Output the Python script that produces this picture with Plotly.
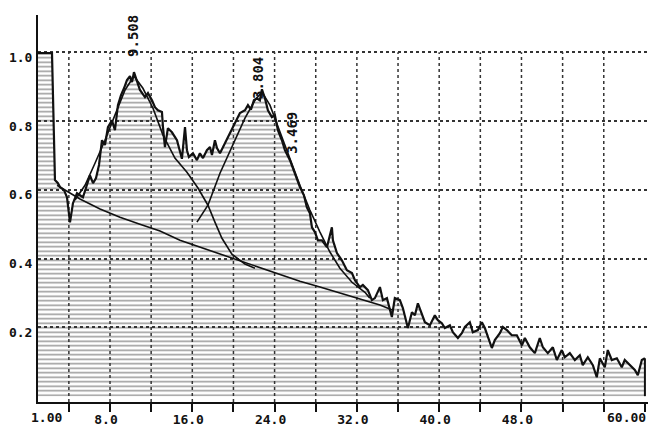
import plotly.graph_objects as go

# ---- data ----
x_main = [1.00, 2.36, 2.65, 2.94, 3.14, 3.53, 3.82, 4.11, 4.40, 4.79, 5.08, 5.37, 5.66,
          6.05, 6.35, 6.64, 6.93, 7.22, 7.51, 7.80, 8.19, 8.48, 8.77, 9.07, 9.36, 9.65,
          9.94, 10.14, 10.33, 10.62, 10.91, 11.40, 11.69, 12.08, 12.37, 12.66, 13.05,
          13.15, 13.34, 13.63, 14.02, 14.51, 14.99, 15.29, 15.48, 15.67, 16.06, 16.45,
          16.74, 17.04, 17.42, 17.72, 17.91, 18.20, 18.40, 18.69, 19.17, 19.66, 19.95,
          20.34, 20.63, 21.12, 21.41, 21.70, 21.99, 22.28, 22.57, 22.77, 23.06, 23.35,
          23.74, 24.03, 24.32, 24.71, 25.00, 25.49, 25.97, 26.46, 26.85, 27.14, 27.43,
          27.63, 27.92, 28.21, 28.60, 29.09, 29.57, 29.67, 30.06, 30.54, 31.03, 31.52,
          31.81, 32.29, 32.58, 33.07, 33.46, 33.75, 34.24, 34.53, 34.92, 35.40, 35.69,
          36.18, 36.47, 36.96, 37.35, 37.64, 37.93, 38.32, 38.61, 39.10, 39.58, 39.87,
          40.26, 40.55, 41.04, 41.33, 41.82, 42.20, 42.50, 42.98, 43.27, 43.76, 44.15,
          44.44, 44.73, 45.12, 45.41, 45.90, 46.19, 46.58, 47.06, 47.55, 48.04, 48.33,
          48.81, 49.30, 49.78, 50.08, 50.56, 51.05, 51.44, 51.92, 52.21, 52.70, 53.19,
          53.67, 53.96, 54.45, 54.94, 55.32, 55.62, 56.10, 56.39, 56.78, 57.27, 57.75,
          58.04, 58.53, 59.02, 59.31, 59.70, 60.00]
y_main = [0.997, 0.997, 0.628, 0.619, 0.608, 0.599, 0.578, 0.505, 0.561, 0.590, 0.584, 0.578, 0.605,
          0.642, 0.619, 0.634, 0.672, 0.744, 0.730, 0.782, 0.802, 0.773, 0.846, 0.875, 0.895, 0.919,
          0.930, 0.913, 0.942, 0.919, 0.890, 0.869, 0.881, 0.860, 0.840, 0.831, 0.826,
          0.782, 0.724, 0.779, 0.767, 0.744, 0.690, 0.782, 0.715, 0.695, 0.706, 0.686,
          0.706, 0.692, 0.715, 0.724, 0.701, 0.744, 0.721, 0.706, 0.735, 0.765, 0.782,
          0.802, 0.823, 0.831, 0.846, 0.833, 0.860, 0.866, 0.860, 0.892, 0.866, 0.831,
          0.811, 0.817, 0.773, 0.744, 0.715, 0.686, 0.648, 0.608, 0.584, 0.549, 0.532,
          0.491, 0.477, 0.453, 0.453, 0.433, 0.491, 0.453, 0.416, 0.395, 0.366, 0.358,
          0.337, 0.317, 0.323, 0.308, 0.279, 0.285, 0.317, 0.279, 0.285, 0.230, 0.285,
          0.279, 0.256, 0.198, 0.244, 0.235, 0.270, 0.241, 0.215, 0.206, 0.235, 0.221,
          0.212, 0.198, 0.206, 0.186, 0.169, 0.183, 0.201, 0.215, 0.186, 0.192, 0.215,
          0.198, 0.172, 0.140, 0.163, 0.183, 0.201, 0.192, 0.177, 0.177, 0.148, 0.169,
          0.142, 0.125, 0.169, 0.142, 0.125, 0.142, 0.105, 0.134, 0.113, 0.125, 0.105,
          0.119, 0.090, 0.113, 0.090, 0.055, 0.110, 0.084, 0.134, 0.105, 0.110, 0.084,
          0.105, 0.090, 0.076, 0.061, 0.105, 0.110]

x_base = [2.85, 3.62, 5.08, 7.03, 8.97, 10.91, 12.86, 14.80, 16.74, 18.69, 20.63,
          22.57, 24.52, 26.46, 28.41, 30.35, 32.29, 34.24, 35.50]
y_base = [0.613, 0.599, 0.573, 0.544, 0.520, 0.500, 0.480, 0.453, 0.433, 0.413, 0.392,
          0.372, 0.352, 0.334, 0.317, 0.299, 0.282, 0.265, 0.250]

x_peak1 = [4.60, 5.57, 6.54, 7.51, 8.48, 9.46, 10.33, 11.20, 12.18, 13.15, 14.31,
           15.48, 16.55, 17.52, 18.20, 18.88, 19.85, 21.12, 22.09]
y_peak1 = [0.570, 0.613, 0.677, 0.744, 0.817, 0.890, 0.930, 0.895, 0.837, 0.759, 0.692,
           0.651, 0.605, 0.555, 0.506, 0.459, 0.413, 0.384, 0.372]

x_peak2 = [16.45, 17.52, 18.69, 20.15, 21.12, 22.09, 22.77, 23.55, 24.52, 25.49, 26.46,
           27.43, 28.41, 29.38, 30.35, 31.52, 32.78, 33.26]
y_peak2 = [0.506, 0.555, 0.648, 0.744, 0.808, 0.860, 0.884, 0.846, 0.767, 0.686, 0.613,
           0.541, 0.477, 0.419, 0.372, 0.331, 0.302, 0.285]

peak_label_x = [10.23, 22.38, 25.68]
peak_label_y = [1.047, 0.925, 0.765]
peak_label_text = ["9.508", "3.804", "3.469"]

x_tick_vals = [4, 8, 12, 16, 20, 24, 28, 32, 36, 40, 44, 48, 52, 56, 60]
x_tick_text = ["", "8.0", "", "16.0", "", "24.0", "", "32.0", "", "40.0", "", "48.0", "", "", ""]
x_grid_vals = [4, 8, 12, 16, 20, 24, 28, 32, 36, 40, 44, 48, 52, 56]
y_tick_vals = [0.2, 0.4, 0.6, 0.8, 1.0]
y_tick_text = ["0.2", "0.4", "0.6", "0.8", "1.0"]
x_end_labels = ["1.00", "60.00"]

X_RANGE = [1, 60.3]
Y_RANGE = [-0.017, 1.108]
FONT = "DejaVu Sans Mono"
INK = "#111111"

fig = go.Figure()

fig.add_trace(go.Scatter(
    x=x_main, y=y_main, mode="lines",
    line=dict(color=INK, width=2.2),
    fill="tozeroy", fillcolor="rgba(0,0,0,0)",
    fillpattern=dict(shape="-", fgcolor="#383838", bgcolor="rgba(0,0,0,0)",
                     size=4.5, solidity=0.35),
    hoverinfo="skip", showlegend=False))

for xs, ys in [(x_base, y_base), (x_peak1, y_peak1), (x_peak2, y_peak2)]:
    fig.add_trace(go.Scatter(x=xs, y=ys, mode="lines",
                             line=dict(color=INK, width=1.6),
                             hoverinfo="skip", showlegend=False))

shapes = []
for gx in x_grid_vals:
    shapes.append(dict(type="line", xref="x", yref="y", x0=gx, x1=gx,
                       y0=Y_RANGE[0], y1=y_tick_vals[-1],
                       line=dict(color="#333333", width=1.5, dash="dot"),
                       layer="below"))
# closing edge of the shaded area at the last sample
shapes.append(dict(type="line", xref="x", yref="y", x0=x_main[-1], x1=x_main[-1],
                   y0=0, y1=y_main[-1], line=dict(color=INK, width=2)))

annotations = []
for lx, ly, lt in zip(peak_label_x, peak_label_y, peak_label_text):
    annotations.append(dict(x=lx, y=ly, xref="x", yref="y", text=lt, showarrow=False,
                            textangle=-90, xanchor="center", yanchor="middle",
                            font=dict(family=FONT, size=14, color=INK, weight="bold")))
annotations.append(dict(x=X_RANGE[0], y=0, xref="x", yref="paper", text=x_end_labels[0],
                        showarrow=False, xanchor="left", yanchor="top", xshift=-9, yshift=-6,
                        font=dict(family=FONT, size=13, color=INK, weight="bold")))
annotations.append(dict(x=1, y=0, xref="paper", yref="paper", text=x_end_labels[1],
                        showarrow=False, xanchor="right", yanchor="top", xshift=0, yshift=-6,
                        font=dict(family=FONT, size=13, color=INK, weight="bold")))

fig.update_layout(
    width=648, height=420,
    margin=dict(l=30, r=8, t=7, b=26, autoexpand=False),
    paper_bgcolor="white", plot_bgcolor="white",
    shapes=shapes, annotations=annotations,
    xaxis=dict(range=X_RANGE, tickvals=x_tick_vals, ticktext=x_tick_text, automargin=False,
               showgrid=False, zeroline=False, showline=True, linecolor=INK, linewidth=2,
               ticks="outside", ticklen=8, tickwidth=1.5, tickcolor=INK,
               ticklabelshift=-4, ticklabelstandoff=-4,
               tickfont=dict(family=FONT, size=13, color=INK, weight="bold")),
    yaxis=dict(range=Y_RANGE, tickvals=y_tick_vals, ticktext=y_tick_text, automargin=False,
               showgrid=True, griddash="dot", gridcolor="#333333", gridwidth=1.5,
               zeroline=False, showline=True, linecolor=INK, linewidth=2,
               ticks="", ticklabelstandoff=1, ticklabelshift=5,
               tickfont=dict(family=FONT, size=13, color=INK, weight="bold")),
)

fig.write_html("out.html")
